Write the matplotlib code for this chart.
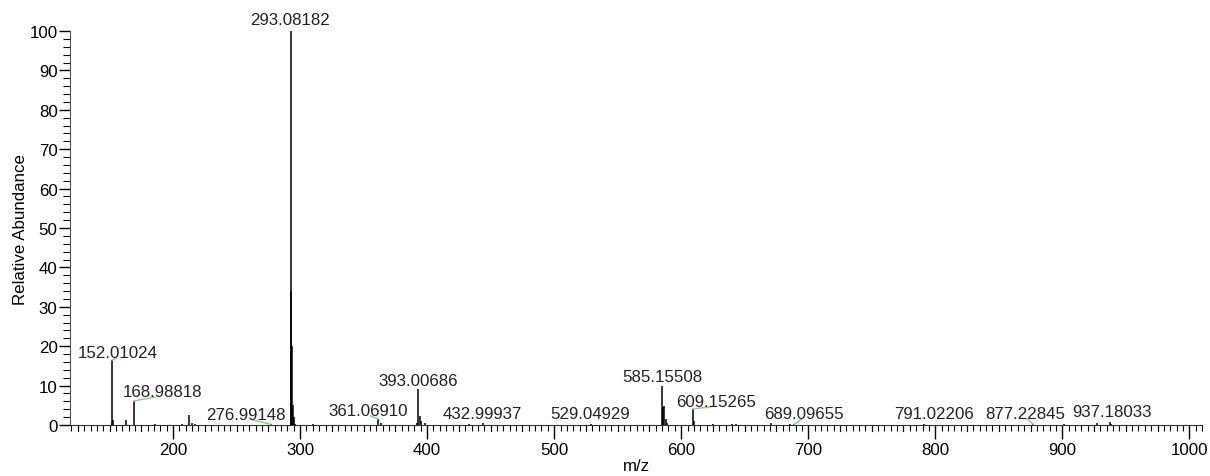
import matplotlib.pyplot as plt
from matplotlib.ticker import MultipleLocator

plt.rcParams['font.family'] = ['Liberation Sans', 'DejaVu Sans']

# peaks (m/z, relative abundance)
mz = [151.7, 152.01024, 153.0, 162.7, 168.98818, 185.8, 206.8, 212.8, 214.7, 217.0,
      276.99148, 292.9, 293.08182, 293.6, 294.1, 295.0, 296.0, 310.0,
      361.06910, 363.8, 392.2, 393.00686, 394.0, 395.3, 398.0,
      432.99937, 444.0, 529.04929,
      585.15508, 586.0, 586.8, 588.0, 589.0, 609.15265, 610.1, 625.0, 640.0, 643.0,
      670.9, 686.0, 689.09655, 791.02206, 877.22845, 901.0, 927.0, 937.18033, 938.5]
inten = [0.6, 16.5, 1.3, 1.2, 6.1, 0.3, 0.2, 2.5, 0.5, 0.3,
         0.2, 34.0, 100.0, 20.0, 5.0, 2.0, 0.3, 0.2,
         1.6, 0.5, 0.4, 9.1, 2.4, 1.0, 0.5,
         0.3, 0.5, 0.2,
         10.0, 4.5, 4.9, 1.5, 0.5, 4.1, 1.1, 0.2, 0.3, 0.2,
         0.5, 0.3, 0.2, 0.2, 0.2, 0.2, 0.5, 0.8, 0.3]

# annotated peaks
lab_mz = [293.08182, 152.01024, 168.98818, 276.99148, 361.06910, 393.00686, 432.99937,
          529.04929, 585.15508, 609.15265, 689.09655, 791.02206, 877.22845, 937.18033]
lab_int = [100.0, 16.5, 6.1, 0.2, 1.6, 9.1, 0.3, 0.2, 10.0, 4.1, 0.2, 0.2, 0.2, 0.8]
lab_x = [292.1, 156.7, 191.3, 257.5, 353.5, 392.9, 443.3,
         528.3, 585.0, 627.6, 696.9, 799.2, 870.9, 939.4]
lab_y = [101.8, 17.2, 7.3, 1.5, 2.5, 10.1, 1.7, 1.7, 11.1, 4.8, 1.7, 1.7, 1.7, 2.2]
leader = [False, True, True, True, True, False, False,
          False, False, True, True, False, True, False]

fig = plt.figure(figsize=(12.1, 4.77), dpi=100)
ax = fig.add_axes([0.0579, 0.1069, 0.9355, 0.826])

ax.vlines(mz, 0, inten, color='black', lw=1.1)

for m, h, x, y, ld in zip(lab_mz, lab_int, lab_x, lab_y, leader):
    ax.text(x, y, f'{m:.5f}', ha='center', va='baseline', fontsize=12.2,
            color='#222222', clip_on=False)
    if ld:
        ex = m + 0.75 * (x - m)
        ax.plot([m, ex], [h, y - 0.2], color='#8fd18f', lw=1.1, clip_on=False)

ax.set_xlim(118.9, 1010)
ax.set_ylim(0, 100)

ax.spines['top'].set_visible(False)
ax.spines['right'].set_visible(False)
ax.spines['left'].set_color('#555555')
ax.spines['bottom'].set_color('#333333')

ax.xaxis.set_major_locator(MultipleLocator(100))
ax.xaxis.set_minor_locator(MultipleLocator(5))
ax.yaxis.set_major_locator(MultipleLocator(10))
ax.yaxis.set_minor_locator(MultipleLocator(2))
ax.tick_params(axis='x', which='major', length=10, width=1, labelsize=12.2, pad=2)
ax.tick_params(axis='x', which='minor', length=4, width=0.8)
ax.tick_params(axis='y', which='major', length=8, width=1, labelsize=12.2, pad=1)
ax.tick_params(axis='y', which='minor', length=5, width=0.8)

# medium ticks every 25
for v in range(125, 1010, 25):
    if v % 100:
        ax.plot([v, v], [0, -1.6], color='black', lw=0.8, clip_on=False)

ax.set_xlabel('m/z', fontsize=12.2, labelpad=1)
ax.set_ylabel('Relative Abundance', fontsize=12.2, labelpad=1)

fig.savefig('out.png', dpi=100)
